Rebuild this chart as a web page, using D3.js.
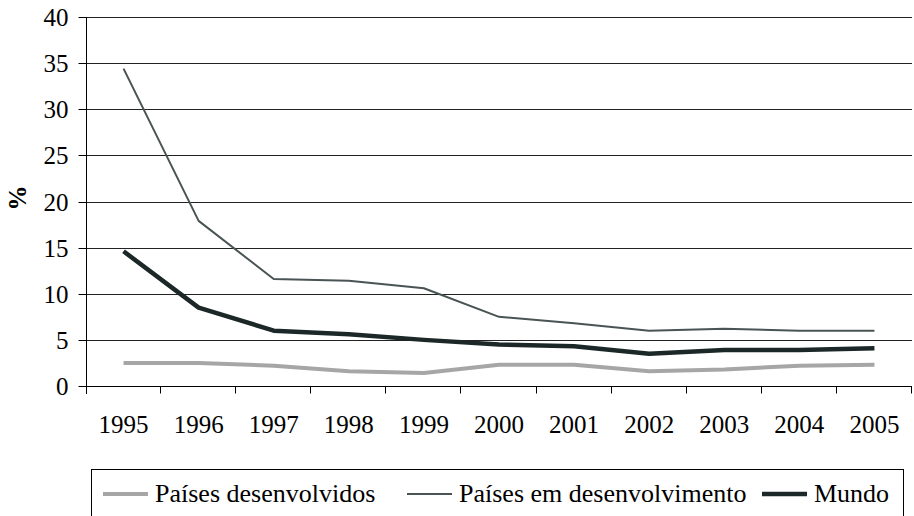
<!DOCTYPE html>
<html>
<head>
<meta charset="utf-8">
<script src="https://cdn.jsdelivr.net/npm/d3@7"></script>
<style>
  body { margin: 0; background: #fff; }
</style>
</head>
<body>
<div class="container"></div>
<script>
var years = ["1995","1996","1997","1998","1999","2000","2001","2002","2003","2004","2005"];
var desenvolvidos = [2.5, 2.5, 2.2, 1.6, 1.4, 2.3, 2.3, 1.6, 1.8, 2.2, 2.3];
var emDesenvolvimento = [34.4, 17.9, 11.6, 11.4, 10.6, 7.5, 6.8, 6.0, 6.2, 6.0, 6.0];
var mundo = [14.6, 8.5, 6.0, 5.6, 5.0, 4.5, 4.3, 3.5, 3.9, 3.9, 4.1];
var yTicks = [0, 5, 10, 15, 20, 25, 30, 35, 40];
var seriesNames = ["Países desenvolvidos", "Países em desenvolvimento", "Mundo"];

const WIDTH = 914;
const HEIGHT = 516;
const LEFT = 86, RIGHT = 912, TOP = 17, BOTTOM = 386;
const FONT = '"Liberation Serif", "Times New Roman", "DejaVu Serif", serif';

var series = [
  {name: seriesNames[0], values: desenvolvidos, color: "#a6a6a6", width: 4},
  {name: seriesNames[1], values: emDesenvolvimento, color: "#4a5454", width: 2},
  {name: seriesNames[2], values: mundo, color: "#1c2828", width: 4.5}
];

var svg = d3.select('.container').append('svg')
  .attr('width', WIDTH)
  .attr('height', HEIGHT)
  .attr('font-family', FONT);

var xScale = d3.scaleBand().domain(years).range([LEFT, RIGHT]).padding(0);
var yScale = d3.scaleLinear().domain([0, 40]).range([BOTTOM, TOP]);

// gridlines
svg.append('g').selectAll('line').data(yTicks.slice(1))
  .enter().append('line')
  .attr('x1', LEFT).attr('x2', RIGHT)
  .attr('y1', function (d) { return Math.round(yScale(d)) + 0.5; })
  .attr('y2', function (d) { return Math.round(yScale(d)) + 0.5; })
  .attr('stroke', '#222').attr('stroke-width', 1);

// y axis
var yAxis = d3.axisLeft(yScale).tickValues(yTicks).tickSize(8).tickPadding(10);
var gy = svg.append('g')
  .attr('transform', 'translate(' + (LEFT + 0.5) + ',0)')
  .call(yAxis)
  .attr('font-family', FONT);
gy.selectAll('.tick').attr('transform', function (d) { return 'translate(0,' + (Math.round(yScale(d)) + 0.5) + ')'; });
gy.select('.domain').attr('d', 'M0,' + TOP + 'V' + (BOTTOM + 8)).attr('stroke', '#000');
gy.selectAll('.tick line').attr('stroke', '#000');
gy.selectAll('.tick text')
  .style('font-family', FONT)
  .style('font-size', '25px')
  .attr('fill', '#000')
  .attr('dy', '0.34em');

// x axis
var xAxis = d3.axisBottom(xScale).tickSize(0).tickPadding(0);
var gx = svg.append('g')
  .attr('transform', 'translate(0,' + (BOTTOM + 0.5) + ')')
  .call(xAxis)
  .attr('font-family', FONT);
gx.select('.domain').attr('d', 'M' + LEFT + ',0H' + RIGHT).attr('stroke', '#000');
gx.selectAll('.tick text')
  .style('font-family', FONT)
  .style('font-size', '25px')
  .attr('fill', '#000')
  .attr('y', 46).attr('dy', null);

var bounds = years.map(function (d) { return xScale(d); }).concat([RIGHT]);
gx.selectAll('.bound').data(bounds.slice(1)).enter().append('line')
  .attr('x1', function (d) { return Math.round(d) - 0.5; })
  .attr('x2', function (d) { return Math.round(d) - 0.5; })
  .attr('y1', 0).attr('y2', 7)
  .attr('stroke', '#000');

// y title
svg.append('text')
  .attr('transform', 'translate(26,' + 198 + ') rotate(-90)')
  .attr('text-anchor', 'middle')
  .style('font-family', FONT)
  .style('font-size', '25px')
  .style('font-weight', 'bold')
  .text('%');

// lines
var line = d3.line()
  .x(function (d, i) { return xScale(years[i]) + xScale.bandwidth() / 2; })
  .y(function (d) { return yScale(d); });

svg.append('g').selectAll('path').data(series)
  .enter().append('path')
  .attr('d', function (s) { return line(s.values); })
  .attr('fill', 'none')
  .attr('stroke', function (s) { return s.color; })
  .attr('stroke-width', function (s) { return s.width; })
  .attr('stroke-linejoin', 'round');

// legend
var legend = svg.append('g');
legend.append('rect')
  .attr('x', 91.5).attr('y', 469.5)
  .attr('width', 812).attr('height', 70)
  .attr('fill', 'none').attr('stroke', '#000');

var legendX = [103, 407, 762];
series.forEach(function (s, i) {
  var g = legend.append('g').attr('transform', 'translate(' + legendX[i] + ',494)');
  g.append('line').attr('x1', 0).attr('x2', 45).attr('y1', 0).attr('y2', 0)
    .attr('stroke', s.color).attr('stroke-width', s.width);
  g.append('text').attr('x', 52).attr('y', 8)
    .style('font-family', FONT)
    .style('font-size', '26px')
    .attr('fill', '#000')
    .text(s.name);
});
</script>
</body>
</html>
